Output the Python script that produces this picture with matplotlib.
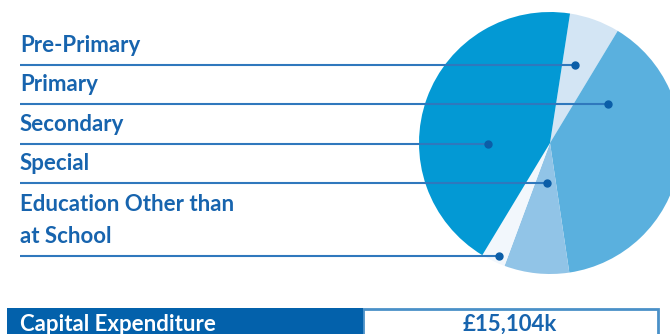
import matplotlib
matplotlib.use("Agg")
import matplotlib.pyplot as plt
from matplotlib.patches import Rectangle

# Capital expenditure share by sector (%)
categories = ["Pre-Primary", "Primary", "Secondary", "Special",
              "Education Other than\nat School"]
shares = [6.2, 39.0, 43.8, 8.0, 3.0]
slice_colors = ["#d3e5f4", "#5ab0de", "#0399d4", "#91c4e7", "#f2f7fc"]
# drawing order clockwise from the top
pie_order = [0, 1, 3, 4, 2]

total_label = "Capital Expenditure"
total_value = "£15,104k"

W, H = 670, 334
fig = plt.figure(figsize=(W / 100, H / 100), dpi=100)
ax = fig.add_axes([0, 0, 1, 1])

def Y(y):
    return H - y

font = ["Lato", "DejaVu Sans"]
text_blue = "#1764ae"
line_blue = "#2f78bd"
fs = 16

# pie
cx, cy, r = 550, 143, 131
ax.pie([shares[i] for i in pie_order],
       colors=[slice_colors[i] for i in pie_order],
       startangle=81.2, counterclock=False,
       center=(cx, Y(cy)), radius=r, frame=True,
       wedgeprops=dict(linewidth=0))
ax.set_xlim(0, W)
ax.set_ylim(0, H)
ax.set_aspect("equal")
ax.axis("off")

# labels with leader lines to dots inside slices
line_y = [65, 104, 144, 183, 256]
dot_x = [575, 608, 488, 547, 499]
text_y = [52, 91, 131, 170, 243]
for lab, ly, dx, ty in zip(categories, line_y, dot_x, text_y):
    ax.plot([20, dx], [Y(ly), Y(ly)], color=line_blue, lw=1.5,
            solid_capstyle="butt", zorder=3)
    ax.plot(dx, Y(ly), "o", color="#0b5ea8", ms=5, zorder=4)
    ax.text(20, Y(ty), lab, color=text_blue, fontsize=fs, family=font,
            fontweight="bold", ha="left", va="baseline",
            linespacing=1.65, zorder=4)

# summary row
ax.add_patch(Rectangle((363, Y(340)), 295, 31, facecolor="white",
                       edgecolor="#4a90c8", lw=2, zorder=2))
ax.add_patch(Rectangle((7, Y(340)), 356, 32, facecolor="#0361ab",
                       edgecolor="none", zorder=2.5))
ax.text(20, Y(331), total_label, color="white", fontsize=fs, family=font,
        fontweight="bold", ha="left", va="baseline", zorder=3)
ax.text(510, Y(331), total_value, color=text_blue, fontsize=fs, family=font,
        fontweight="bold", ha="center", va="baseline", zorder=3)

fig.savefig("out.png", dpi=100)
